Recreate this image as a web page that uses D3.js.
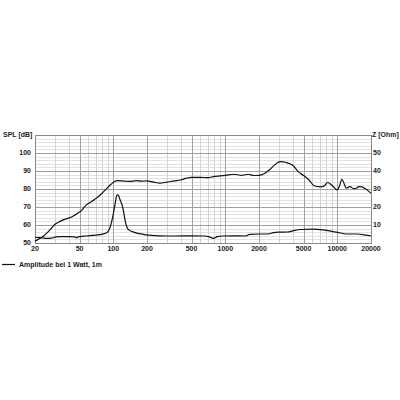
<!DOCTYPE html>
<html>
<head>
<meta charset="utf-8">
<script src="https://cdn.jsdelivr.net/npm/d3@7"></script>
<style>
  html, body { margin: 0; padding: 0; background: #fff; }
  svg text { font-family: "Liberation Sans", Arial, sans-serif; font-weight: bold; font-size: 7px; fill: #222; }
</style>
</head>
<body>
<svg id="chart" width="400" height="400"></svg>
<script>
// frequency ticks (Hz) and level ticks
const freqLabels = [20, 50, 100, 200, 500, 1000, 2000, 5000, 10000, 20000];
const splTicks = [50, 60, 70, 80, 90, 100];
const ohmTicks = [10, 20, 30, 40, 50];

// SPL curve, 1 W / 1 m  [Hz, dB]
const splFreq = [20, 22, 24, 26, 28, 30, 33, 36, 40, 44, 48, 52, 56, 60, 65, 70, 76, 82, 88, 95, 102, 110, 125, 140, 160, 180, 200, 230, 260, 300, 350, 400, 450, 500, 600, 700, 800, 900, 1000, 1200, 1400, 1600, 1800, 2000, 2200, 2500, 2800, 3100, 3500, 4000, 4500, 5000, 5600, 6200, 7000, 7600, 8200, 9000, 10000, 10500, 11000, 11500, 12000, 13000, 14000, 14800, 15500, 16500, 18000, 20000];
const splDb = [51, 52.5, 54, 56, 58.2, 60.3, 61.8, 63, 63.8, 65, 66.5, 68, 70.5, 72, 73.3, 74.8, 76.5, 78.5, 80.5, 82.5, 84, 84.6, 84.4, 84.2, 84.6, 84.4, 84.5, 83.8, 83.3, 83.8, 84.5, 85, 86, 86.5, 86.5, 86.3, 87, 87.3, 87.6, 88.2, 87.6, 88.2, 87.5, 87.6, 88.3, 90.8, 93.8, 95.2, 94.7, 93.2, 89.5, 87.5, 85, 81.8, 81.2, 81.6, 83.6, 82, 79.4, 82, 85.4, 83, 80.5, 81.3, 80.2, 80.4, 81.3, 81.2, 80, 77.6];

// impedance curve [Hz, Ohm]
const zFreq = [20, 22, 25, 28, 31, 35, 40, 45, 47, 49, 55, 60, 70, 80, 88, 92, 96, 100, 104, 108, 111, 115, 120, 124, 128, 133, 140, 150, 170, 190, 220, 260, 350, 500, 650, 720, 780, 850, 950, 1200, 1500, 1650, 2000, 2400, 2700, 3000, 3600, 4000, 4700, 6000, 7500, 9000, 10500, 12000, 15000, 18000, 20000];
const zOhm = [3.2, 3, 2.6, 2.7, 3.4, 3.5, 3.5, 3.4, 2.9, 3.5, 3.8, 4, 4.4, 4.9, 5.8, 7.5, 11, 16, 22, 26.8, 26.5, 24, 21, 17, 12, 8.5, 7, 6.2, 5.2, 4.7, 4.2, 4, 3.9, 4, 3.9, 3.4, 2.6, 3.5, 3.9, 4, 3.9, 4.8, 5, 5, 5.8, 6, 6.1, 6.7, 7.5, 7.7, 7.3, 6.5, 5.7, 5, 5, 4.4, 3.9];

const legendText = "Amplitude bei 1 Watt, 1m";

const plot = { left: 35, right: 371, top: 135, bottom: 243 };
const svg = d3.select('#chart');

const x = d3.scaleLog().domain([20, 20000]).range([plot.left, plot.right]);
const y = d3.scaleLinear().domain([50, 110]).range([plot.bottom, plot.top]);
const yZ = d3.scaleLinear().domain([0, 60]).range([plot.bottom, plot.top]);

// minor / major grid
const minorF = [];
[10, 100, 1000, 10000].forEach(dec => {
  for (let k = 1; k <= 9; k++) {
    const f = dec * k;
    if (f > 20 && f < 20000) minorF.push(f);
  }
});
const majorF = freqLabels.filter(f => f > 20 && f < 20000);
const minorDb = d3.range(52, 110, 2).filter(v => v % 10 !== 0);
const majorDb = d3.range(60, 110, 10);

const grid = svg.append('g').attr('shape-rendering', 'crispEdges');
grid.selectAll('.hmin').data(minorDb).enter().append('line')
  .attr('x1', plot.left).attr('x2', plot.right)
  .attr('y1', d => Math.round(y(d)) + 0.5).attr('y2', d => Math.round(y(d)) + 0.5)
  .attr('stroke', '#e2e2e2').attr('stroke-width', 1);
grid.selectAll('.vmin').data(minorF.filter(f => !majorF.includes(f))).enter().append('line')
  .attr('y1', plot.top).attr('y2', plot.bottom)
  .attr('x1', d => Math.round(x(d)) + 0.5).attr('x2', d => Math.round(x(d)) + 0.5)
  .attr('stroke', '#d4d4d4').attr('stroke-width', 1);
grid.selectAll('.hmaj').data(majorDb).enter().append('line')
  .attr('x1', plot.left).attr('x2', plot.right)
  .attr('y1', d => Math.round(y(d)) + 0.5).attr('y2', d => Math.round(y(d)) + 0.5)
  .attr('stroke', '#a0a0a0').attr('stroke-width', 1);
grid.selectAll('.vmaj').data(majorF).enter().append('line')
  .attr('y1', plot.top).attr('y2', plot.bottom)
  .attr('x1', d => Math.round(x(d)) + 0.5).attr('x2', d => Math.round(x(d)) + 0.5)
  .attr('stroke', '#a0a0a0').attr('stroke-width', 1);
grid.append('rect')
  .attr('x', plot.left + 0.5).attr('y', plot.top + 0.5)
  .attr('width', plot.right - plot.left).attr('height', plot.bottom - plot.top)
  .attr('fill', 'none').attr('stroke', '#888').attr('stroke-width', 1);

// tick labels
svg.append('g').selectAll('text').data(splTicks).enter().append('text')
  .attr('x', 31).attr('y', d => y(d)).attr('dy', '0.35em')
  .attr('text-anchor', 'end').text(d => d);
svg.append('g').selectAll('text').data(ohmTicks).enter().append('text')
  .attr('x', 373).attr('y', d => yZ(d)).attr('dy', '0.35em')
  .attr('text-anchor', 'start').text(d => d);
svg.append('g').selectAll('text').data(freqLabels).enter().append('text')
  .attr('x', d => x(d)).attr('y', 249).attr('dy', '0.35em')
  .attr('text-anchor', 'middle').text(d => d);

svg.append('text').attr('x', 3).attr('y', 135).attr('dy', '0.35em').text('SPL [dB]');
svg.append('text').attr('x', 372).attr('y', 135).attr('dy', '0.35em').text('Z [Ohm]');

// curves
const splLine = d3.line().x(d => x(d[0])).y(d => y(d[1])).curve(d3.curveMonotoneX);
const zLine = d3.line().x(d => x(d[0])).y(d => yZ(d[1])).curve(d3.curveMonotoneX);

svg.append('path').datum(d3.zip(splFreq, splDb))
  .attr('d', splLine).attr('fill', 'none').attr('stroke', '#111').attr('stroke-width', 1.2);
svg.append('path').datum(d3.zip(zFreq, zOhm))
  .attr('d', zLine).attr('fill', 'none').attr('stroke', '#111').attr('stroke-width', 1.2);

// legend
svg.append('line').attr('x1', 2).attr('x2', 15).attr('y1', 264.5).attr('y2', 264.5)
  .attr('stroke', '#111').attr('stroke-width', 1.2);
svg.append('text').attr('x', 19).attr('y', 264.5).attr('dy', '0.35em').text(legendText);
</script>
</body>
</html>
